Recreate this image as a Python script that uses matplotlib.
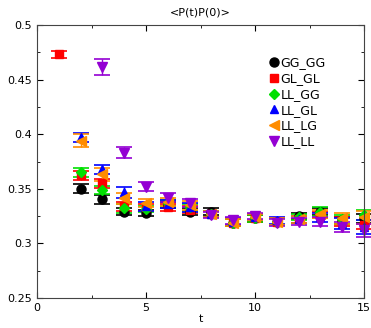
import numpy as np
import matplotlib
matplotlib.use("Agg")
import matplotlib.pyplot as plt
from matplotlib.ticker import MultipleLocator

nan = np.nan
t = np.arange(1, 16)
labels = ["GG_GG", "GL_GL", "LL_GG", "LL_GL", "LL_LG", "LL_LL"]
gg_gg = [nan, 0.350, 0.3405, 0.329, 0.328, 0.335, 0.329, 0.329, 0.319, 0.323, 0.320, 0.325, 0.329, 0.321, 0.323]
gl_gl = [0.473, 0.3625, 0.355, 0.334, 0.333, 0.333, 0.331, 0.327, 0.319, 0.323, 0.320, 0.322, 0.326, 0.320, 0.317]
ll_gg = [nan, 0.365, 0.349, 0.332, 0.3315, 0.337, 0.333, 0.327, 0.319, 0.323, 0.320, 0.324, 0.329, 0.322, 0.326]
ll_gl = [nan, 0.397, 0.368, 0.347, 0.334, 0.336, 0.333, 0.327, 0.320, 0.324, 0.321, 0.322, 0.324, 0.318, 0.315]
ll_lg = [nan, 0.394, 0.3635, 0.3415, 0.337, 0.338, 0.335, 0.327, 0.319, 0.324, 0.320, 0.322, 0.327, 0.323, 0.324]
ll_ll = [nan, nan, 0.4615, 0.383, 0.352, 0.342, 0.337, 0.326, 0.321, 0.325, 0.319, 0.320, 0.320, 0.315, 0.312]

err_gg_gg = [nan, 0.004, 0.004, 0.003, 0.003, 0.003, 0.003, 0.003, 0.003, 0.003, 0.003, 0.003, 0.003, 0.003, 0.004]
err_gl_gl = [0.0035, 0.004, 0.004, 0.004, 0.003, 0.003, 0.003, 0.003, 0.003, 0.003, 0.003, 0.003, 0.003, 0.004, 0.004]
err_ll_gg = [nan, 0.004, 0.004, 0.004, 0.003, 0.003, 0.003, 0.003, 0.003, 0.003, 0.003, 0.003, 0.004, 0.004, 0.005]
err_ll_gl = [nan, 0.004, 0.004, 0.005, 0.004, 0.004, 0.004, 0.003, 0.003, 0.003, 0.003, 0.003, 0.004, 0.005, 0.006]
err_ll_lg = [nan, 0.006, 0.006, 0.005, 0.004, 0.004, 0.004, 0.003, 0.003, 0.003, 0.003, 0.003, 0.004, 0.005, 0.006]
err_ll_ll = [nan, nan, 0.007, 0.005, 0.004, 0.004, 0.004, 0.003, 0.003, 0.003, 0.003, 0.003, 0.004, 0.005, 0.006]

series = [gg_gg, gl_gl, ll_gg, ll_gl, ll_lg, ll_ll]
errors = [err_gg_gg, err_gl_gl, err_ll_gg, err_ll_gl, err_ll_lg, err_ll_ll]
colors = ["#000000", "#ff0000", "#00e000", "#0000ff", "#ff8c00", "#9400d3"]
markers = ["o", "s", "D", "^", "<", "v"]
msizes = [6.5, 5.5, 5, 6, 6.5, 6.5]

fig = plt.figure(figsize=(3.71, 3.28), dpi=100)
ax = fig.add_axes([37/371, 30/328, 327/371, 273/328])

for y, e, c, m, ms, lab in zip(series, errors, colors, markers, msizes, labels):
    ax.errorbar(t, y, yerr=e, fmt=m, color=c, ms=ms, capsize=5.5, elinewidth=1,
                capthick=1.2, mec=c, label=lab, clip_on=False)

ax.set_xlim(0, 15)
ax.set_ylim(0.25, 0.5)
ax.xaxis.set_major_locator(MultipleLocator(5))
ax.xaxis.set_minor_locator(MultipleLocator(2.5))
ax.yaxis.set_major_locator(MultipleLocator(0.05))
ax.yaxis.set_minor_locator(MultipleLocator(0.025))
ax.tick_params(which="both", direction="in", top=True, right=True, labelsize=8)
ax.tick_params(which="major", length=4)
ax.tick_params(which="minor", length=2.5)
ax.set_yticks([0.25, 0.3, 0.35, 0.4, 0.45, 0.5])
ax.set_yticklabels(["0.25", "0.3", "0.35", "0.4", "0.45", "0.5"])
for s in ax.spines.values():
    s.set_color("#444444")
ax.set_xlabel("t", fontsize=8, labelpad=1)
ax.set_title("<P(t)P(0)>", fontsize=8, pad=7)

handles, lbls = ax.get_legend_handles_labels()
h2 = [h[0] for h in handles]
ax.legend(h2, lbls, loc="upper left", bbox_to_anchor=(0.71, 0.885), frameon=False,
          fontsize=9, handlelength=0.7, handletextpad=0.2, labelspacing=0.22,
          borderaxespad=0, borderpad=0)

fig.savefig("out.png", dpi=100)
